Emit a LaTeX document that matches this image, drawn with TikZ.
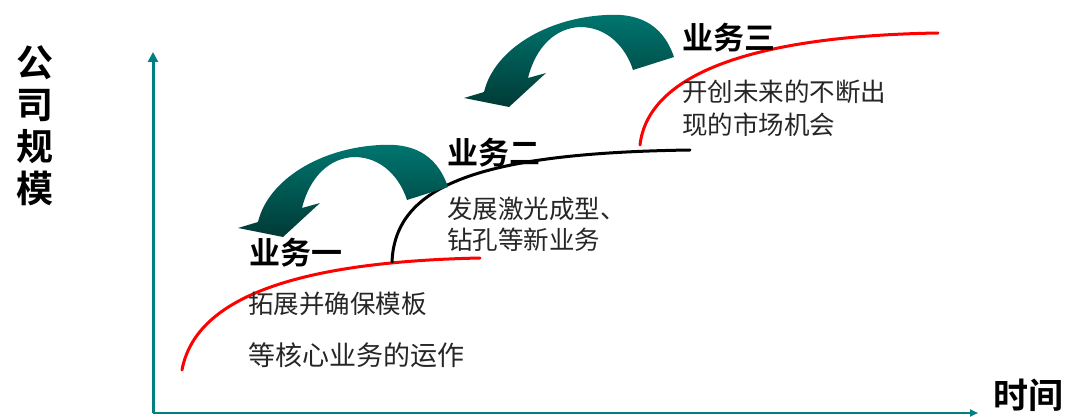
\documentclass[tikz,border=0pt]{standalone}
\usepackage{fontspec}
\newfontfamily\cjk{Noto Sans CJK SC}
\newfontfamily\cjkbold{Noto Sans CJK SC Bold}
\definecolor{axisteal}{RGB}{0,128,128}
\definecolor{arrowtop}{RGB}{0,118,112}
\definecolor{arrowbot}{RGB}{0,58,54}
\tikzset{
  axis/.style={line width=3pt,axisteal,-{Triangle[length=10pt,width=10pt]}},
  growth/.style={line width=3pt,line cap=round},
  title/.style={font=\cjkbold\fontsize{31}{33}\selectfont,inner sep=0pt},
  note/.style={font=\cjk\fontsize{25.5}{27}\selectfont,inner sep=0pt,anchor=west,black!85},
}
\usetikzlibrary{arrows.meta}
\begin{document}
\begin{tikzpicture}[x=1pt,y=-1pt,line join=round]
  \useasboundingbox (0,0) rectangle (1066,417);
  % axes
  \coordinate (O) at (153,413);
  \coordinate (ytip) at (153,52);
  \coordinate (xtip) at (978,413);
  \draw[axis] (O) -- (ytip);
  \draw[axis,line width=2pt,-{Triangle[length=8pt,width=7pt]}] (O) -- (xtip);
  \node[font=\cjkbold\fontsize{37}{42}\selectfont,align=center,inner sep=0pt] (ylab) at (35,126) {公\\司\\规\\模};
  \node[font=\cjkbold\fontsize{35}{37}\selectfont,inner sep=0pt] (xlab) at (1028,395) {时间};
  % growth curves
  \coordinate (a0) at (182,370);
  \coordinate (a1) at (480,258);
  \coordinate (b0) at (392,262);
  \coordinate (b1) at (690,150);
  \coordinate (c0) at (640,145);
  \coordinate (c1) at (938,33);
  \draw[growth,red] (a0) .. controls (195,300) and (290,262) .. (a1);
  \draw[growth,black] (b0) .. controls (395,185) and (480,153) .. (b1);
  \draw[growth,red] (c0) .. controls (648,75) and (750,36) .. (c1);
  % curved arrows
  \foreach \dx/\dy in {0/0,226/-130}{
    \shade[top color=arrowtop,bottom color=arrowbot,shift={(\dx,\dy)}]
      (448,187) .. controls (436,152) and (410,143) .. (380,145)
      .. controls (320,148) and (268,180) .. (258,222)
      -- (238,228) -- (283,237) -- (320,203) -- (302,208)
      .. controls (310,176) and (330,158) .. (354,157)
      .. controls (382,157) and (400,178) .. (407,200) -- cycle;
  }
  % labels
  \node[title] (t1) at (296,253) {业务一};
  \node[title] (t2) at (494,153) {业务二};
  \node[title] (t3) at (729,38) {业务三};
  \node[note] (n1a) at (248,304) {拓展并确保模板};
  \node[note,font=\cjk\fontsize{27}{29}\selectfont] (n1b) at (248,355) {等核心业务的运作};
  \node[note] (n2a) at (447,209) {发展激光成型、};
  \node[note] (n2b) at (447,240) {钻孔等新业务};
  \node[note] (n3a) at (682,92) {开创未来的不断出};
  \node[note] (n3b) at (682,125) {现的市场机会};
\end{tikzpicture}
\end{document}
